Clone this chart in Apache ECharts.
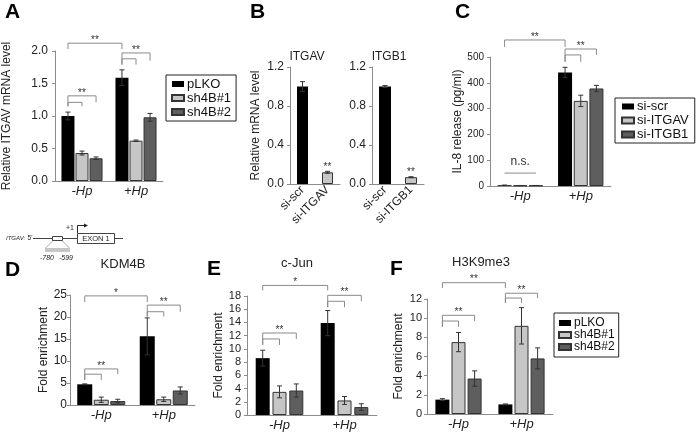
<!DOCTYPE html>
<html>
<head>
<meta charset="utf-8">
<script src="https://cdn.jsdelivr.net/npm/echarts@6/dist/echarts.min.js"></script>
<style>
  html, body { margin: 0; padding: 0; background: #fff; }
  #chart { width: 698px; height: 433px; }
</style>
</head>
<body>
<div id="chart"></div>
<script>
const hpCats = ['-Hp', '+Hp'];
const shNames = ['pLKO', 'sh4B#1', 'sh4B#2'];
const siNames = ['si-scr', 'si-ITGAV', 'si-ITGB1'];
const bCatsItgav = ['si-scr', 'si-ITGAV'];
const bCatsItgb1 = ['si-scr', 'si-ITGB1'];

// values per series: [ -Hp, +Hp ]
const aMean = [[1.0, 1.59], [0.43, 0.62], [0.35, 0.98]];
const aErr = [[0.06, 0.12], [0.03, 0.01], [0.02, 0.06]];
const bItgavMean = [1.0, 0.12];
const bItgavErr = [0.05, 0.01];
const bItgb1Mean = [1.0, 0.07];
const bItgb1Err = [0.01, 0.005];
const cMean = [[3, 440], [2, 330], [2, 378]];
const cErr = [[0, 20], [0, 22], [0, 12]];
const dMean = [[4.7, 15.6], [1.2, 1.3], [0.9, 3.3]];
const dErr = [[0.1, 4.2], [0.6, 0.5], [0.4, 0.8]];
const eMean = [[8.6, 13.9], [3.5, 2.2], [3.7, 1.2]];
const eErr = [[1.2, 1.9], [0.9, 0.6], [1.0, 0.5]];
const fMean = [[1.5, 1.0], [7.5, 9.2], [3.7, 5.8]];
const fErr = [[0.1, 0.05], [1.0, 1.9], [0.8, 1.1]];

// significance brackets: [fromCat, fromBar, toCat, toBar, level, leftDrop, rightDrop, label]
const aBrackets = [
    [0, 0, 1, 0, 2.12, 2.03, 2.03, '**'],
    [1, 0, 1, 2, 1.97, 1.79, 1.85, '**'],
    [1, 0, 1, 1, 1.88, 1.79, 1.79, ''],
    [0, 0, 0, 2, 1.31, 1.15, 1.21, '**'],
    [0, 0, 0, 1, 1.21, 1.15, 1.15, ''],
];
const bItgavStars = [[1, 0, 1, 0, 0.14, 0.14, 0.14, '**']];
const bItgb1Stars = [[1, 0, 1, 0, 0.09, 0.09, 0.09, '**']];
const cBrackets = [
    [0, 0, 1, 0, 566, 539, 539, '**'],
    [1, 0, 1, 2, 531, 481, 508, '**'],
    [1, 0, 1, 1, 508, 481, 481, ''],
    [0, 0, 0, 2, 50, 50, 50, 'n.s.'],
];
const dBrackets = [
    [0, 0, 1, 0, 24.8, 23.4, 23.4, '*'],
    [1, 0, 1, 2, 22.7, 20.1, 21.2, '**'],
    [1, 0, 1, 1, 21.2, 20.1, 20.1, ''],
    [0, 0, 0, 2, 8.2, 5.7, 7.0, '**'],
    [0, 0, 0, 1, 7.0, 5.7, 5.7, ''],
];
const eBrackets = [
    [0, 0, 1, 0, 19.6, 18.85, 18.85, '*'],
    [1, 0, 1, 2, 18.1, 16.3, 17.2, '**'],
    [1, 0, 1, 1, 17.2, 16.3, 16.3, ''],
    [0, 0, 0, 2, 12.4, 10.6, 11.5, '**'],
    [0, 0, 0, 1, 11.5, 10.6, 10.6, ''],
];
const fBrackets = [
    [0, 0, 1, 0, 13.7, 13.15, 13.15, '**'],
    [1, 0, 1, 2, 12.6, 11.6, 12.1, '**'],
    [1, 0, 1, 1, 12.1, 11.6, 11.6, ''],
    [0, 0, 0, 2, 10.3, 9.1, 9.7, '**'],
    [0, 0, 0, 1, 9.7, 9.1, 9.1, ''],
];

const barColors = ['#000000', '#c6c6c6', '#5e5e5e'];
const axisGray = '#8c8c8c';
const font = 'Liberation Sans';

const barX = (api, cat, idx, n, bw, gap) =>
    api.coord([cat, 0])[0] + (idx - (n - 1) / 2) * bw * (1 + gap);

function barSeries(grid, names, means, bw, gap) {
    return means.map((m, i) => ({
        name: names[i],
        type: 'bar',
        xAxisIndex: grid,
        yAxisIndex: grid,
        data: m,
        barWidth: bw,
        barGap: `${gap * 100}%`,
        itemStyle: { color: barColors[i], borderColor: '#333', borderWidth: i ? 1 : 0 },
        silent: true,
    }));
}

function errorSeries(grid, means, errs, n, bw, gap) {
    return means.map((m, i) => ({
        type: 'custom',
        xAxisIndex: grid,
        yAxisIndex: grid,
        z: 4,
        silent: true,
        encode: { x: 0, y: [1, 2] },
        data: m.map((v, k) => [k, v + errs[i][k], v - errs[i][k]]),
        renderItem: (params, api) => {
            const x = barX(api, api.value(0), i, n, bw, gap);
            const y1 = api.coord([api.value(0), api.value(1)])[1];
            const y2 = api.coord([api.value(0), api.value(2)])[1];
            const style = { stroke: '#333', lineWidth: 1 };
            return {
                type: 'group',
                children: [
                    { type: 'line', shape: { x1: x, y1, x2: x, y2 }, style },
                    { type: 'line', shape: { x1: x - 2.5, y1, x2: x + 2.5, y2: y1 }, style },
                    { type: 'line', shape: { x1: x - 2.5, y1: y2, x2: x + 2.5, y2 }, style },
                ],
            };
        },
    }));
}

function bracketSeries(grid, list, n, bw, gap) {
    return {
        type: 'custom',
        xAxisIndex: grid,
        yAxisIndex: grid,
        z: 6,
        silent: true,
        encode: { x: 0, y: 1 },
        data: list.map((b) => [b[0], b[4]]),
        renderItem: (params, api) => {
            const b = list[params.dataIndex];
            const xl = barX(api, b[0], b[1], n, bw, gap);
            const xr = barX(api, b[2], b[3], n, bw, gap);
            const yt = api.coord([b[0], b[4]])[1];
            const yl = api.coord([b[0], b[5]])[1];
            const yr = api.coord([b[0], b[6]])[1];
            const children = [];
            if (xl !== xr) {
                children.push({
                    type: 'polyline',
                    shape: { points: [[xl, yl], [xl, yt], [xr, yt], [xr, yr]] },
                    style: { stroke: '#8a8a8a', fill: null, lineWidth: 1 },
                });
            }
            if (b[7]) {
                const star = b[7][0] === '*';
                children.push({
                    type: 'text',
                    x: (xl + xr) / 2,
                    y: star ? yt - 3 : yt - 11,
                    style: {
                        text: b[7], align: 'center', verticalAlign: 'middle',
                        fontSize: star ? 10 : 12, fill: '#333', fontFamily: font,
                    },
                });
            }
            return { type: 'group', children };
        },
    };
}

function xAxis(grid, data, extra = {}) {
    return {
        type: 'category', gridIndex: grid, data,
        axisLine: { lineStyle: { color: axisGray } },
        axisTick: { show: false },
        axisLabel: { color: '#222', fontSize: 13, fontStyle: 'italic', margin: 4, interval: 0, ...extra },
    };
}

function yAxis(grid, max, interval, digits, fontSize, margin, name, nameGap) {
    return {
        type: 'value', gridIndex: grid, min: 0, max, interval,
        name, nameLocation: 'middle', nameGap,
        nameTextStyle: { color: '#222', fontSize: 12 },
        axisLine: { show: true, lineStyle: { color: axisGray } },
        axisTick: { show: true, length: 3, lineStyle: { color: axisGray } },
        axisLabel: { color: '#222', fontSize, margin, formatter: (v) => v.toFixed(digits) },
        splitLine: { show: false },
    };
}

function legend(data, left, top, fontSize, lineHeight, padding, itemGap) {
    return {
        data, left, top, orient: 'vertical', icon: 'rect',
        itemWidth: 12, itemHeight: 6, itemGap, padding,
        borderColor: '#222', borderWidth: 1, selectedMode: false,
        textStyle: { fontSize, lineHeight, color: '#111', padding: [0, 0, 0, -2] },
    };
}

const txt = (text, x, y, size, opts = {}) => ({
    type: 'text', x, y, silent: true,
    style: { text, fontSize: size, fill: '#222', fontFamily: font, align: 'center', verticalAlign: 'middle', ...opts },
});
const letter = (text, x, y) => txt(text, x, y, 21, { fontWeight: 'bold', align: 'left', verticalAlign: 'top', fill: '#000' });

const bColorsItem = (vals) => vals.map((v, k) => ({ value: v, itemStyle: { color: barColors[k], borderColor: '#333', borderWidth: k ? 1 : 0 } }));

const series = [
    ...barSeries(0, shNames, aMean, 13, 0.08),
    ...errorSeries(0, aMean, aErr, 3, 13, 0.08),
    bracketSeries(0, aBrackets, 3, 13, 0.08),

    { type: 'bar', name: 'ITGAV', xAxisIndex: 1, yAxisIndex: 1, data: bColorsItem(bItgavMean), barWidth: 11, silent: true },
    ...errorSeries(1, [bItgavMean], [bItgavErr], 1, 11, 0),
    bracketSeries(1, bItgavStars, 1, 11, 0),
    { type: 'bar', name: 'ITGB1', xAxisIndex: 2, yAxisIndex: 2, data: bColorsItem(bItgb1Mean), barWidth: 12, silent: true },
    ...errorSeries(2, [bItgb1Mean], [bItgb1Err], 1, 12, 0),
    bracketSeries(2, bItgb1Stars, 1, 12, 0),

    ...barSeries(3, siNames, cMean, 14, 0.12),
    ...errorSeries(3, cMean, cErr, 3, 14, 0.12),
    bracketSeries(3, cBrackets, 3, 14, 0.12),

    ...barSeries(4, shNames, dMean, 15, 0.1),
    ...errorSeries(4, dMean, dErr, 3, 15, 0.1),
    bracketSeries(4, dBrackets, 3, 15, 0.1),

    ...barSeries(5, shNames, eMean, 14, 0.2),
    ...errorSeries(5, eMean, eErr, 3, 14, 0.2),
    bracketSeries(5, eBrackets, 3, 14, 0.2),

    ...barSeries(6, shNames, fMean, 14, 0.15),
    ...errorSeries(6, fMean, fErr, 3, 14, 0.15),
    bracketSeries(6, fBrackets, 3, 14, 0.15),
];

const chart = echarts.init(document.getElementById('chart'), null, { renderer: 'canvas' });
chart.setOption({
    animation: false,
    backgroundColor: '#fff',
    textStyle: { fontFamily: font },
    grid: [
        { left: 53, top: 51, width: 110, height: 130 },
        { left: 290, top: 67, width: 50, height: 117 },
        { left: 372, top: 67, width: 52, height: 117 },
        { left: 490, top: 57, width: 121, height: 129 },
        { left: 70, top: 295, width: 125, height: 110 },
        { left: 247, top: 296, width: 130, height: 119 },
        { left: 427, top: 299, width: 126, height: 115 },
    ],
    xAxis: [
        xAxis(0, hpCats),
        xAxis(1, bCatsItgav, { rotate: 45, fontStyle: 'normal', fontSize: 12 }),
        xAxis(2, bCatsItgb1, { rotate: 45, fontStyle: 'normal', fontSize: 12 }),
        xAxis(3, hpCats),
        xAxis(4, hpCats),
        xAxis(5, hpCats),
        xAxis(6, hpCats),
    ],
    yAxis: [
        yAxis(0, 2, 0.5, 1, 12, 7, 'Relative ITGAV mRNA level', 42),
        yAxis(1, 1.2, 0.4, 1, 12, 6, 'Relative mRNA level', 28),
        yAxis(2, 1.2, 0.4, 1, 12, 6, '', 0),
        yAxis(3, 500, 100, 0, 10, 6, 'IL-8 release (pg/ml)', 26),
        yAxis(4, 25, 5, 0, 12, 3, 'Fold enrichment', 13),
        yAxis(5, 18, 2, 0, 11, 6, 'Fold enrichment', 18),
        yAxis(6, 12, 2, 0, 11, 5, 'Fold enrichment', 22),
    ],
    legend: [
        legend(shNames, 166, 75, 13, 14, [2, 5], 0),
        legend(siNames, 615, 98, 13, 13, [2, 6], 1),
        legend(shNames, 554, 313, 12, 12, [4, 4], 0),
    ],
    graphic: [
        letter('A', 5, 2),
        letter('B', 250, 2),
        letter('C', 455, 2),
        letter('D', 5, 260),
        letter('E', 207, 259),
        letter('F', 390, 259),
        txt('ITGAV', 307, 57, 12),
        txt('ITGB1', 389, 57, 12),
        txt('KDM4B', 123, 264, 13),
        txt('c-Jun', 297, 263, 13),
        txt('H3K9me3', 481, 262, 13),
        // promoter schematic
        txt('ITGAV:', 6, 238.5, 6, { fontStyle: 'italic', align: 'left' }),
        txt("5'", 30, 238.5, 6.5),
        { type: 'line', silent: true, shape: { x1: 33, y1: 238.5, x2: 123, y2: 238.5 }, style: { stroke: '#444', lineWidth: 1 } },
        { type: 'rect', silent: true, shape: { x: 52.5, y: 236.5, width: 10, height: 4 }, style: { fill: '#fff', stroke: '#444', lineWidth: 1 } },
        { type: 'rect', silent: true, shape: { x: 77.5, y: 233.5, width: 37, height: 10 }, style: { fill: '#fff', stroke: '#444', lineWidth: 1 } },
        txt('EXON 1', 96, 238.5, 7.5),
        txt('+1', 70, 228, 7),
        { type: 'polyline', silent: true, shape: { points: [[77.5, 233], [77.5, 225.5], [84, 225.5]] }, style: { stroke: '#222', fill: null, lineWidth: 1 } },
        { type: 'polygon', silent: true, shape: { points: [[84, 223.5], [88, 225.5], [84, 227.5]] }, style: { fill: '#222' } },
        { type: 'polyline', silent: true, shape: { points: [[52.5, 241], [45.5, 248]] }, style: { stroke: '#aaa', lineWidth: 1 } },
        { type: 'polyline', silent: true, shape: { points: [[62.5, 241], [69.5, 248]] }, style: { stroke: '#aaa', lineWidth: 1 } },
        { type: 'rect', silent: true, shape: { x: 45, y: 248, width: 25, height: 4 }, style: { fill: '#c6c6c6' } },
        txt('-780', 47, 258, 7, { fontStyle: 'italic' }),
        txt('-599', 66, 258, 7, { fontStyle: 'italic' }),
    ],
    series,
});
window.addEventListener('resize', () => chart.resize());
</script>
</body>
</html>
